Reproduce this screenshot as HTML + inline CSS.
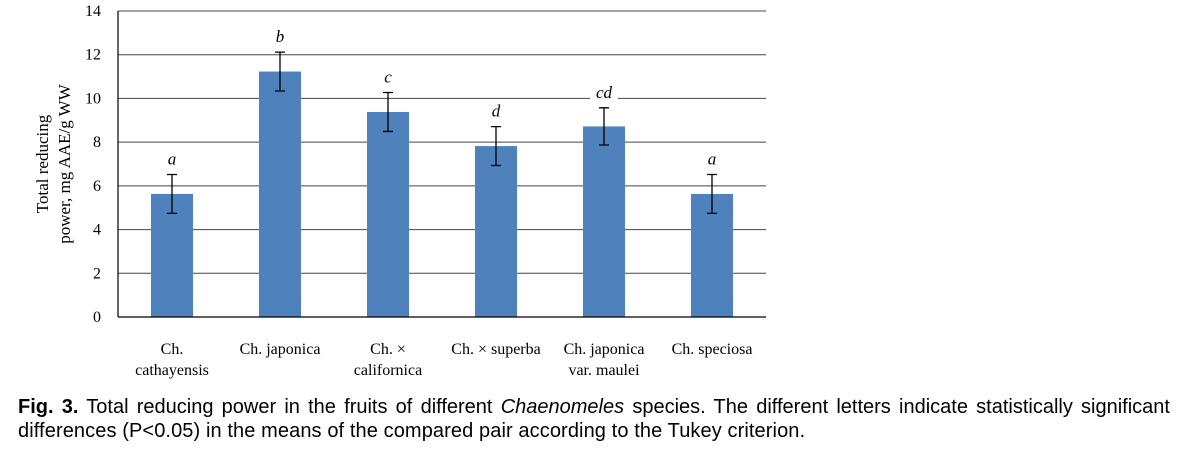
<!DOCTYPE html>
<html><head><meta charset="utf-8"><style>
body{margin:0;background:#fff;width:1182px;height:458px;overflow:hidden;position:relative}
svg text{font-family:"Liberation Serif",serif}
.cap{position:absolute;left:18px;width:1152px;font-family:"Liberation Sans",sans-serif;font-size:20px;line-height:24px;color:#000;white-space:nowrap}
#cap1{top:395px;text-align:justify;text-align-last:justify}
#cap2{top:419px;letter-spacing:0.1px}
</style></head><body>
<svg id="chart" width="1182" height="395" style="position:absolute;left:0;top:0"></svg>
<div id="cap1" class="cap"><b>Fig. 3.</b> Total reducing power in the fruits of different <i>Chaenomeles</i> species. The different letters indicate statistically significant</div>
<div id="cap2" class="cap">differences (P&lt;0.05) in the means of the compared pair according to the Tukey criterion.</div>
<script>
const categories=[["Ch.","cathayensis"],["Ch. japonica"],["Ch. ×","californica"],["Ch. × superba"],["Ch. japonica","var. maulei"],["Ch. speciosa"]];
const values=[5.63,11.23,9.38,7.82,8.72,5.63];
const errors=[0.89,0.89,0.89,0.89,0.85,0.89];
const letters=["a","b","c","d","cd","a"];
const yTicks=[0,2,4,6,8,10,12,14];
const NS="http://www.w3.org/2000/svg";
const svg=document.getElementById('chart');
const X0=118,X1=766,Y0=317,Y1=11,ymax=14;
const y=v=>Y0-(v/ymax)*(Y0-Y1);
const bw=(X1-X0)/categories.length;
const xc=i=>X0+bw*(i+0.5);
function mk(t,a){const e=document.createElementNS(NS,t);for(const k in a)e.setAttribute(k,a[k]);svg.appendChild(e);return e;}
yTicks.forEach(t=>{
 if(t>0){const l=mk('line',{x1:X0,x2:X1,y1:y(t),y2:y(t),stroke:'#444','stroke-width':1});
 
 }
 const tx=mk('text',{x:X0-17,y:y(t)+5,'text-anchor':'end','font-size':16});
 tx.textContent=t;
 
 
});
values.forEach((v,i)=>{
 const b=mk('rect',{x:xc(i)-21,y:y(v),width:42,height:Y0-y(v),fill:'#4f81bd'});
 
 
 const hi=y(v+errors[i]),lo=y(v-errors[i]),c=xc(i);
 const e=mk('path',{d:`M${c},${hi}V${lo}M${c-5},${hi}H${c+5}M${c-5},${lo}H${c+5}`,stroke:'#000','stroke-width':1.3,fill:'none'});
 
 
 const lw=letters[i].length*9+10;
 mk('rect',{x:c-lw/2,y:hi-26,width:lw,height:18,fill:'#fff'});
 const lt=mk('text',{x:c,y:hi-10,'text-anchor':'middle','font-size':17,'font-style':'italic'});
 lt.textContent=letters[i];
 
 
 categories[i].forEach((s,j)=>{
  const ct=mk('text',{x:c,y:354+j*21,'text-anchor':'middle','font-size':16});
  ct.textContent=s;
  
  
 });
});
mk('line',{x1:X0,x2:X0,y1:Y1,y2:Y0,stroke:'#000','stroke-width':1.2});
mk('line',{x1:X0,x2:X1,y1:Y0,y2:Y0,stroke:'#000','stroke-width':1.2});
const yt=mk('text',{transform:'translate(48,164) rotate(-90)','text-anchor':'middle','font-size':17});


const t1=document.createElementNS(NS,'tspan');t1.setAttribute('x',0);t1.setAttribute('dy',0);t1.textContent='Total reducing';yt.appendChild(t1);
const t2=document.createElementNS(NS,'tspan');t2.setAttribute('x',0);t2.setAttribute('dy',22);t2.textContent='power, mg AAE/g WW';yt.appendChild(t2);
</script>
</body></html>
